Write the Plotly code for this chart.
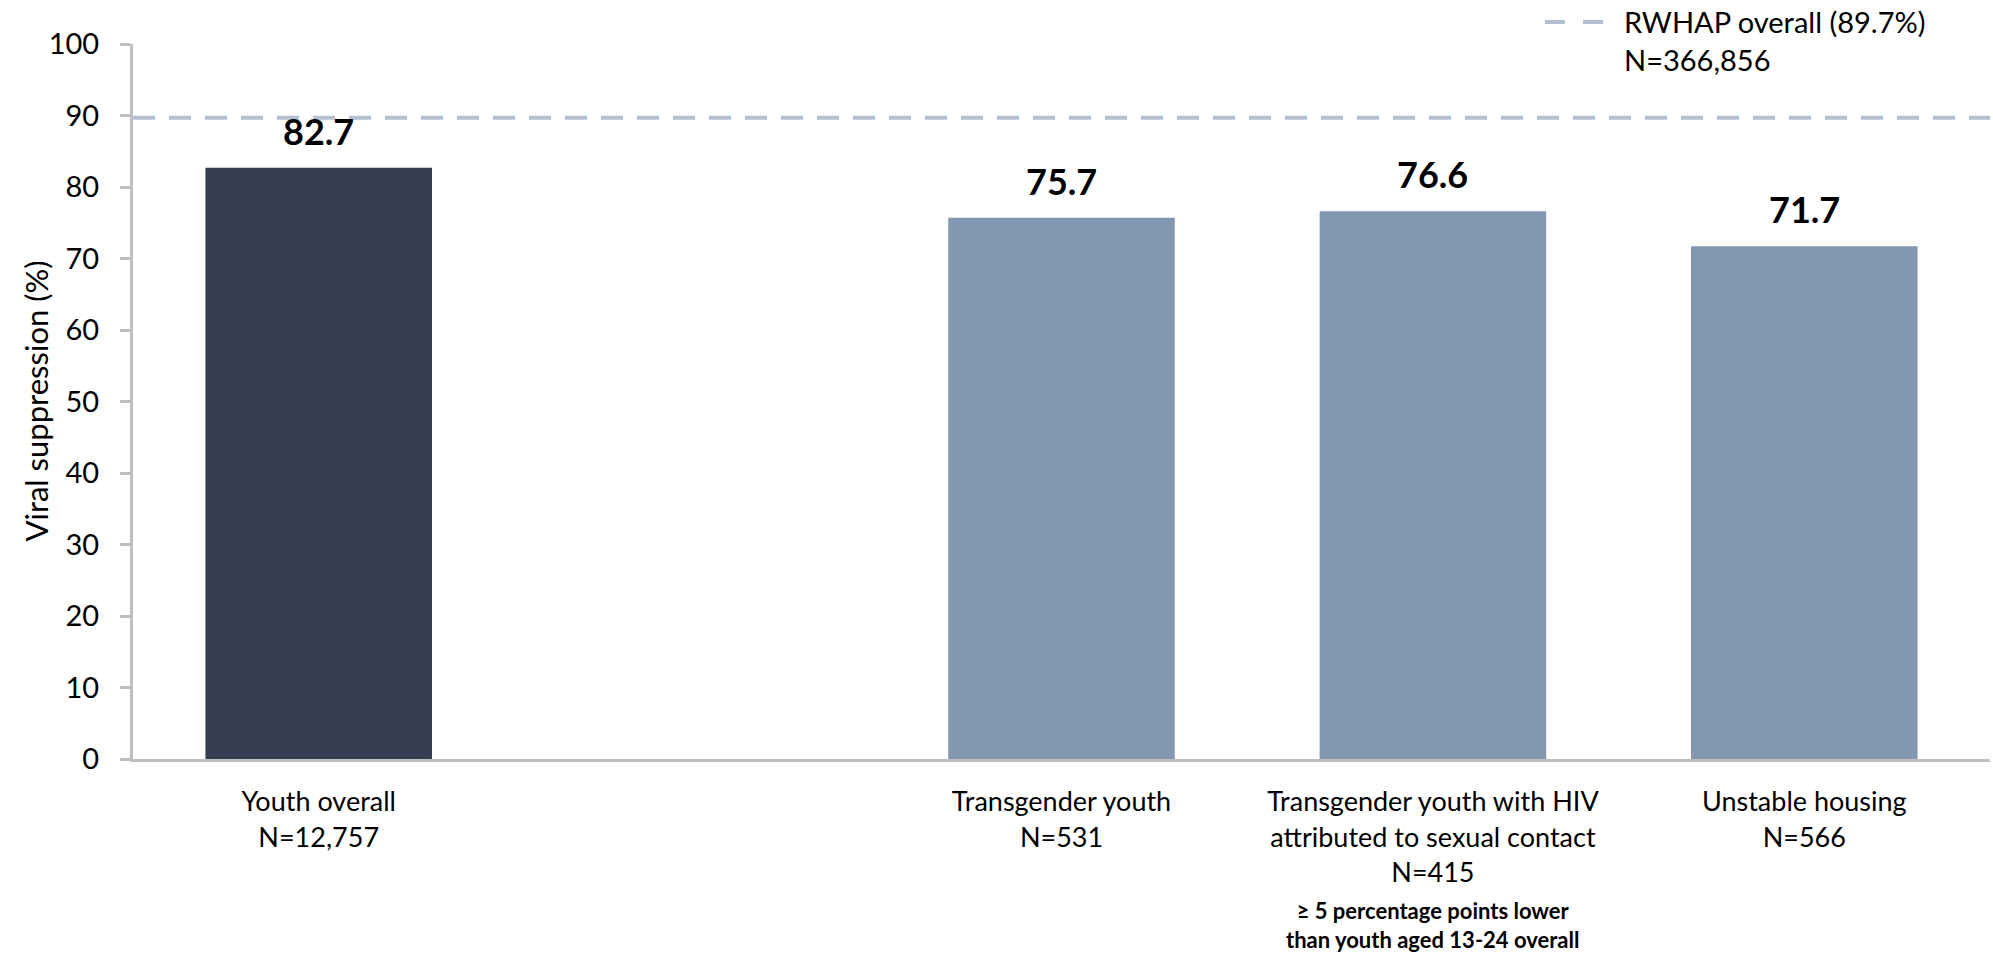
import plotly.graph_objects as go

categories = ["Youth overall<br>N=12,757", "", "Transgender youth<br>N=531",
              "Transgender youth with HIV<br>attributed to sexual contact<br>N=415",
              "Unstable housing<br>N=566"]
positions = [0, 1, 2, 3, 4]
values = [82.7, None, 75.7, 76.6, 71.7]
bar_colors = ["#343e50", "#8497b0", "#8497b0", "#8497b0", "#8497b0"]
rwhap_value = 89.7
rwhap_label = "RWHAP overall (89.7%)<br>N=366,856"
footnote = "≥ 5 percentage points lower<br>than youth aged 13-24 overall"
y_title = "Viral suppression (%)"
y_ticks = list(range(0, 101, 10))

FONT = "Lato"
L, T, B = 133, 44, 759
PW, PH = 1993 - 3 - L, B - T

fig = go.Figure()
fig.add_trace(go.Bar(
    x=positions, y=values, marker_color=bar_colors, width=0.61,
    marker_line_width=0, showlegend=False, hoverinfo="skip",
))
fig.add_trace(go.Scatter(
    x=[-0.5, 4.5], y=[rwhap_value, rwhap_value], mode="lines",
    line=dict(color="#b4bfcf", width=4, dash="22px,14px"),
    showlegend=False, hoverinfo="skip", cliponaxis=False,
))

for xv, yv in zip(positions, values):
    if yv is None:
        continue
    fig.add_annotation(x=xv, y=yv, text=f"<b>{yv:.1f}</b>", showarrow=False,
                       yanchor="bottom", yshift=13,
                       font=dict(family=FONT, size=36, color="#000000"))

# legend (manual)
fig.add_shape(type="line", xref="paper", yref="paper",
              x0=(1545 - L) / PW, x1=(1607 - L) / PW,
              y0=(B - 22) / PH, y1=(B - 22) / PH,
              line=dict(color="#b4bfcf", width=4, dash="20px,18px"))
fig.add_annotation(xref="paper", yref="paper", x=(1622 - L) / PW, y=(B - 2) / PH,
                   text=rwhap_label, showarrow=False, xanchor="left", yanchor="top",
                   align="left", font=dict(family=FONT, size=29, color="#000000"))

# y-axis title
fig.add_annotation(xref="paper", yref="paper", x=(35 - L) / PW, y=0.5, text=y_title,
                   textangle=-90, showarrow=False, xanchor="center", yanchor="middle",
                   font=dict(family=FONT, size=31, color="#000000"))

fig.add_annotation(x=3, xref="x", yref="paper", y=(B - 895) / PH, text=f"<b>{footnote}</b>",
                   showarrow=False, xanchor="center", yanchor="top", align="center",
                   font=dict(family=FONT, size=22, color="#000000"))

fig.update_layout(
    width=1993, height=967,
    margin=dict(l=L, r=3, t=T, b=967 - B),
    plot_bgcolor="white", paper_bgcolor="white",
    font=dict(family=FONT, size=26, color="#000000"),
)
fig.update_xaxes(
    range=[-0.5, 4.5], tickvals=[0, 2, 3, 4],
    ticktext=[categories[0], categories[2], categories[3], categories[4]],
    showline=True, linecolor="#bfbfbf", linewidth=3, ticks="",
    showgrid=False, zeroline=False, ticklabelstandoff=17, automargin=False,
    tickfont=dict(family=FONT, size=27, color="#000000"),
)
fig.update_yaxes(
    range=[0, 100], tickvals=y_ticks, showline=True, linecolor="#bfbfbf", linewidth=3,
    ticks="outside", ticklen=10, tickwidth=3, tickcolor="#bfbfbf",
    showgrid=False, zeroline=False, ticklabelstandoff=15, automargin=False,
    tickfont=dict(family=FONT, size=29, color="#000000"),
)

fig.write_html("out.html", config={"displayModeBar": False},
               post_script="document.body.style.margin='0px';")
